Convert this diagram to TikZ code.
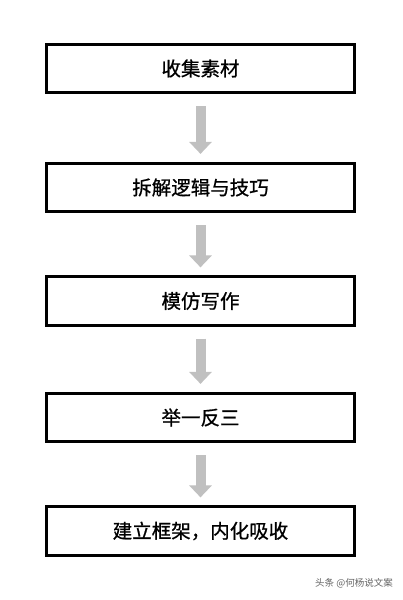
\documentclass[tikz,border=0pt]{standalone}
\usepackage{fontspec}
\newfontfamily\cjk{Noto Sans CJK SC}
\newfontfamily\cjkbox[FakeBold=0.8]{Noto Sans CJK SC}
\usetikzlibrary{arrows.meta}
\tikzset{
  stepbox/.style={draw=black, line width=2.7pt, fill=white, minimum width=308pt, minimum height=48.5pt, inner sep=0pt, font=\cjkbox\fontsize{19.5}{22}\selectfont, text=black},
  flowarrow/.style={draw={rgb,255:red,192;green,192;blue,192}, line width=10pt, line cap=butt, -{Triangle[width=22pt,length=12pt]}, shorten <=12pt, shorten >=8pt},
  mark label/.style={font=\cjk\fontsize{9.5}{11}\selectfont, text={rgb,255:red,100;green,100;blue,100}, inner sep=0pt}
}
\begin{document}
\begin{tikzpicture}[x=1pt,y=1pt]
\useasboundingbox[fill=white] (0,0) rectangle (402,600);
\node[stepbox] (b1) at (200.5,531.5) {收集素材};
\node[stepbox] (b2) at (200.5,412.5) {拆解逻辑与技巧};
\node[stepbox] (b3) at (200.5,299) {模仿写作};
\node[stepbox] (b4) at (200.5,182.5) {举一反三};
\node[stepbox] (b5) at (200.5,69) {建立框架，内化吸收};
\draw[flowarrow] (b1.south) -- (b2.north);
\draw[flowarrow] (b2.south) -- (b3.north);
\draw[flowarrow] (b3.south) -- (b4.north);
\draw[flowarrow] (b4.south) -- (b5.north);
\node[mark label, anchor=east] (wm) at (393,17) {头条 @何杨说文案};
\end{tikzpicture}
\end{document}
